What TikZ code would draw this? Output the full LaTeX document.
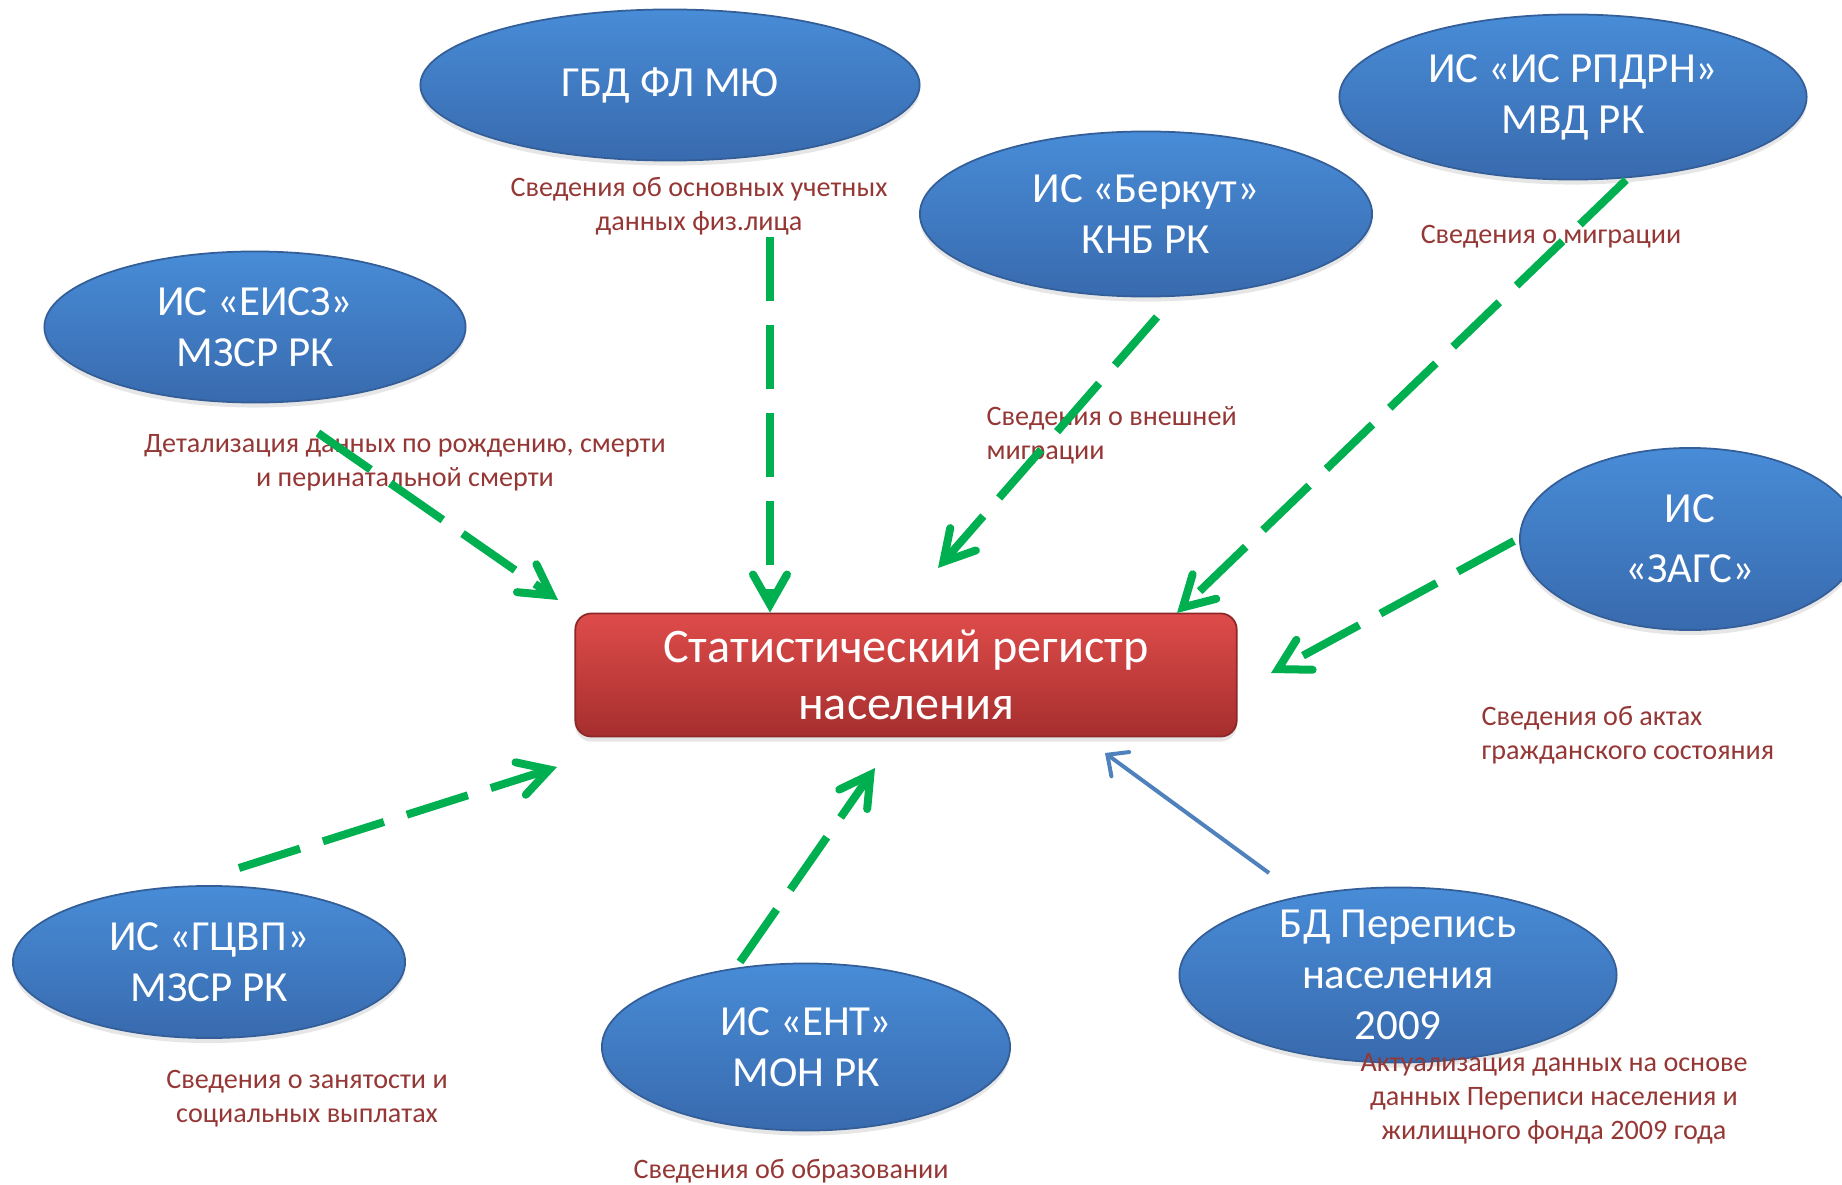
\documentclass[tikz,border=0pt]{standalone}
\usepackage{fontspec}
\setmainfont{Carlito}
\usetikzlibrary{shapes.geometric,arrows.meta,shadows}

\definecolor{srcTop}{RGB}{72,140,215}
\definecolor{srcBot}{RGB}{56,106,174}
\definecolor{srcEdge}{RGB}{52,94,152}
\definecolor{regTop}{RGB}{222,76,74}
\definecolor{regBot}{RGB}{166,46,46}
\definecolor{regEdge}{RGB}{140,40,40}
\definecolor{noteRed}{RGB}{149,55,53}
\definecolor{flowGreen}{RGB}{0,176,80}
\definecolor{feedBlue}{RGB}{79,129,189}

\begin{document}
\begin{tikzpicture}[x=0.01cm,y=-0.01cm,
    src/.style={ellipse,inner sep=0pt,align=center,text=white,
      font=\fontsize{12.2}{14.5}\selectfont,
      top color=srcTop,bottom color=srcBot,draw=srcEdge,line width=0.5pt,
      drop shadow={shadow xshift=0pt,shadow yshift=-0.05cm,opacity=0.2}},
    regbox/.style={rectangle,rounded corners=0.16cm,inner sep=0pt,align=center,text=white,
      font=\fontsize{13.7}{16}\selectfont,
      top color=regTop,bottom color=regBot,draw=regEdge,line width=0.5pt,
      drop shadow={shadow xshift=0pt,shadow yshift=-0.05cm,opacity=0.2}},
    note/.style={inner sep=0pt,align=center,text=noteRed,
      font=\fontsize{8}{9.6}\selectfont},
    flow/.style={draw=flowGreen,line width=0.08cm,dash pattern=on 0.64cm off 0.24cm,
      -{Straight Barb[length=0.3cm,width=0.34cm,line cap=round]}},
    feed/.style={draw=feedBlue,line width=0.04cm,
      -{Straight Barb[length=0.16cm,width=0.3cm,line cap=round]}}]
  \useasboundingbox (0,0) rectangle (1842,1185);

  % sources
  \node[src,minimum width=4.99cm,minimum height=1.51cm] (gbd) at (670,85) {ГБД ФЛ МЮ};
  \node[src,minimum width=4.67cm,minimum height=1.65cm] (rpdrn) at (1573,97) {ИС «ИС РПДРН»\\МВД РК};
  \node[src,minimum width=4.52cm,minimum height=1.65cm] (berkut) at (1146,214) {ИС «Беркут»\\КНБ РК};
  \node[src,minimum width=4.21cm,minimum height=1.51cm] (eisz) at (255,327) {ИС «ЕИСЗ»\\МЗСР РК};
  \node[src,minimum width=3.40cm,minimum height=1.82cm,
    font=\fontsize{12.2}{17}\selectfont] (zags) at (1690,539) {ИС\\«ЗАГС»};
  \node[src,minimum width=3.92cm,minimum height=1.52cm] (gcvp) at (209,962) {ИС «ГЦВП»\\МЗСР РК};
  \node[src,minimum width=4.08cm,minimum height=1.67cm] (ent) at (806,1047) {ИС «ЕНТ»\\МОН РК};
  \node[src,minimum width=4.37cm,minimum height=1.75cm,inner ysep=-0.2cm] (perepis) at (1398,975)
    {БД Перепись\\населения\\2009};

  % register
  \node[regbox,minimum width=6.61cm,minimum height=1.23cm] (reg) at (906,675)
    {Статистический регистр\\населения};

  % notes
  \node[note] (n-gbd) at (699,206) {Сведения об основных учетных\\данных физ.лица};
  \node[note] (n-rpdrn) at (1551,237) {Сведения о миграции};
  \node[note,anchor=west,align=left] (n-berkut) at (986,435) {Сведения о внешней\\миграции};
  \node[note] (n-eisz) at (405,463) {Детализация данных по рождению, смерти\\и перинатальной смерти};
  \node[note,anchor=west,align=left] (n-zags) at (1481,735) {Сведения об актах\\гражданского состояния};
  \node[note] (n-gcvp) at (307,1099) {Сведения о занятости и\\социальных выплатах};
  \node[note] (n-ent) at (791,1171) {Сведения об образовании};
  \node[note] (n-perepis) at (1554,1099) {Актуализация данных на основе\\данных Переписи населения и\\жилищного фонда 2009 года};

  % arrow ends
  \coordinate (gbd-out) at (770,237);
  \coordinate (eisz-out) at (318,433);
  \coordinate (eisz-in) at (558,600);
  \coordinate (berkut-out) at (1157,317);
  \coordinate (berkut-in) at (938,568);
  \coordinate (rpdrn-out) at (1626,180);
  \coordinate (rpdrn-in) at (1177,613);
  \coordinate (zags-out) at (1514,541);
  \coordinate (zags-in) at (1271,673);
  \coordinate (gcvp-out) at (239,868);
  \coordinate (gcvp-in) at (557,767);
  \coordinate (ent-out) at (740,962);
  \coordinate (ent-in) at (875,768);
  \coordinate (perepis-out) at (1269,873);
  \coordinate (perepis-in) at (1105,753);

  \draw[flow] (gbd-out) -- (gbd-out |- reg.north);
  \draw[flow] (eisz-out) -- (eisz-in);
  \draw[flow] (berkut-out) -- (berkut-in);
  \draw[flow] (rpdrn-out) -- (rpdrn-in);
  \draw[flow] (zags-out) -- (zags-in);
  \draw[flow] (gcvp-out) -- (gcvp-in);
  \draw[flow] (ent-out) -- (ent-in);
  \draw[feed] (perepis-out) -- (perepis-in);
\end{tikzpicture}
\end{document}
